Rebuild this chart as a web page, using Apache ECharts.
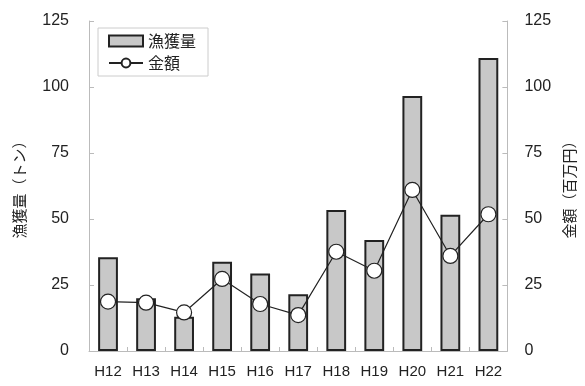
<!DOCTYPE html>
<html>
<head>
<meta charset="utf-8">
<script src="https://cdn.jsdelivr.net/npm/echarts@6/dist/echarts.min.js"></script>
<style>
  html, body { margin: 0; padding: 0; background: #fff; }
  #chart { width: 585px; height: 386px; }
</style>
</head>
<body>
<div id="chart"></div>
<script>
  // 年度
  var years = ['H12', 'H13', 'H14', 'H15', 'H16', 'H17', 'H18', 'H19', 'H20', 'H21', 'H22'];
  // 漁獲量(トン)
  var catchTon = [35.5, 20, 13, 33.8, 29.4, 21.5, 53.4, 42, 96.6, 51.6, 111];
  // 金額(百万円)
  var amountYen = [18.7, 18.3, 14.6, 27.3, 17.8, 13.6, 37.6, 30.4, 61, 36, 51.8];

  var font = '"Liberation Sans", Arial, "Noto Sans CJK JP", sans-serif';
  var cjk = '"Noto Sans CJK JP", sans-serif';
  var chart = echarts.init(document.getElementById('chart'));

  var axisCommon = {
    type: 'value',
    min: 0,
    max: 125,
    interval: 25,
    splitLine: { show: false },
    axisLine: { show: true, lineStyle: { color: '#bbb', width: 1 } },
    axisTick: { show: true, inside: true, length: 5, lineStyle: { color: '#bbb' } },
    axisLabel: { color: '#222', fontSize: 16, fontFamily: font },
    nameLocation: 'middle',
    nameRotate: 90,
    nameTextStyle: { color: '#222', fontSize: 15, fontFamily: cjk }
  };

  var option = {
    animation: false,
    backgroundColor: '#fff',
    grid: { left: 89, right: 74, top: 21, bottom: 35 },
    legend: {
      left: 98,
      top: 28,
      orient: 'vertical',
      itemGap: 6,
      itemWidth: 34,
      itemHeight: 11,
      padding: [5, 12, 5, 10],
      borderColor: '#ccc',
      borderWidth: 1,
      backgroundColor: '#fff',
      textStyle: { color: '#222', fontSize: 16, fontFamily: cjk },
      data: [
        { name: '漁獲量', icon: 'rect' },
        { name: '金額' }
      ]
    },
    xAxis: {
      type: 'category',
      data: years,
      axisLine: { lineStyle: { color: '#bbb' } },
      axisTick: { show: true, inside: true, length: 4, lineStyle: { color: '#bbb' } },
      axisLabel: { color: '#222', fontSize: 15, fontFamily: font, margin: 13, interval: 0 }
    },
    yAxis: [
      Object.assign({}, axisCommon, {
        position: 'left',
        name: '漁獲量（トン）',
        nameGap: 62,
        axisLabel: Object.assign({}, axisCommon.axisLabel, { margin: 20 })
      }),
      Object.assign({}, axisCommon, {
        position: 'right',
        name: '金額（百万円）',
        nameGap: 50,
        axisLabel: Object.assign({}, axisCommon.axisLabel, { margin: 17 })
      })
    ],
    series: [
      {
        name: '漁獲量',
        type: 'bar',
        yAxisIndex: 0,
        barWidth: '52%',
        data: catchTon,
        itemStyle: { color: '#c8c8c8', borderColor: '#222', borderWidth: 2 }
      },
      {
        name: '金額',
        type: 'line',
        yAxisIndex: 1,
        data: amountYen,
        symbol: 'circle',
        symbolSize: 15,
        lineStyle: { color: '#222', width: 1.2 },
        itemStyle: { color: '#fff', borderColor: '#222', borderWidth: 1.2 }
      }
    ]
  };

  chart.setOption(option);
</script>
</body>
</html>
